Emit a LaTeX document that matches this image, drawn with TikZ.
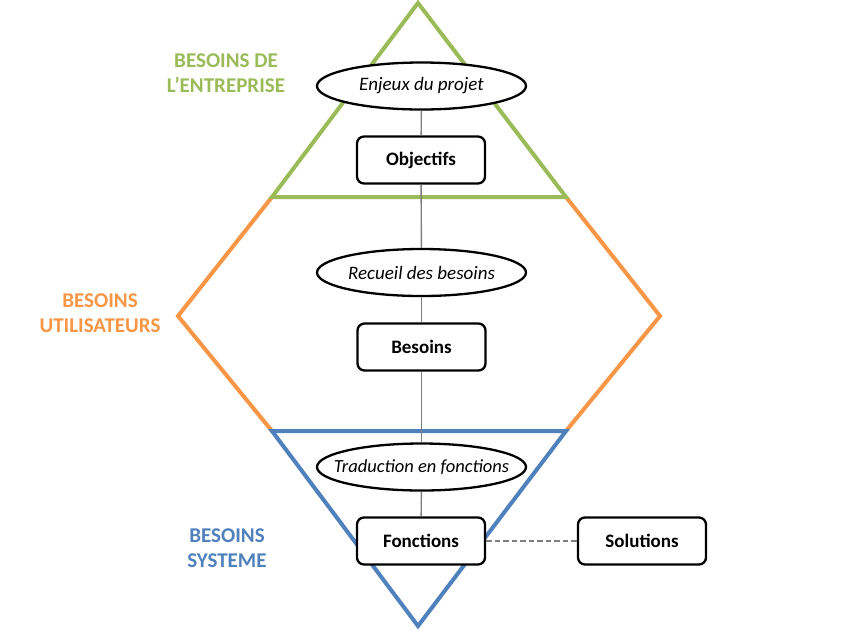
\documentclass[tikz,border=0pt]{standalone}
\usepackage{fontspec}
\setmainfont{Carlito}
\usetikzlibrary{shapes.geometric}
\definecolor{ogreen}{HTML}{9BBB59}
\definecolor{oorange}{HTML}{F79646}
\definecolor{oblue}{HTML}{4F81BD}
\definecolor{lgray}{HTML}{7F7F7F}
\tikzset{
  zone/.style={line width=4pt, line join=miter},
  oval/.style={ellipse, draw=black, line width=2.3pt, fill=white, minimum width=209pt, minimum height=47pt, inner xsep=-30pt, inner ysep=0pt, font=\fontsize{19}{22}\selectfont\itshape},
  box/.style={rectangle, rounded corners=7pt, draw=black, line width=2.3pt, fill=white, minimum width=128pt, minimum height=47pt, inner sep=0pt, font=\fontsize{19}{22}\selectfont\bfseries},
  zlabel/.style={align=center, font=\fontsize{21}{25}\selectfont\bfseries},
  link/.style={draw=lgray, line width=1.4pt},
  dlink/.style={draw=lgray, line width=1.4pt, dash pattern=on 5.5pt off 3pt}
}
\begin{document}
\begin{tikzpicture}[x=1pt,y=-1pt]
\useasboundingbox (0,0) rectangle (850,630);
\fill[white] (0,0) rectangle (850,630);
% zones
\draw[zone, oorange] (272,197) -- (178,316) -- (272,431);
\draw[zone, oorange] (566,197) -- (660,316) -- (566,431);
\draw[zone, ogreen] (418,3) -- (566,197) -- (272,197) -- cycle;
\draw[zone, oblue] (272,431) -- (566,431) -- (418,626) -- cycle;
% labels
\node[zlabel, text=ogreen] (lent) at (226,73) {BESOINS DE\\L’ENTREPRISE};
\node[zlabel, text=oorange] (luti) at (100,313) {BESOINS\\UTILISATEURS};
\node[zlabel, text=oblue] (lsys) at (227,548) {BESOINS\\SYSTEME};
% nodes
\node[oval] (e1) at (421.5,86) {Enjeux du projet};
\node[box] (o1) at (421,160) {Objectifs};
\node[oval] (e2) at (421.5,272.5) {Recueil des besoins};
\node[box] (b1) at (421.5,347) {Besoins};
\node[oval, font=\fontsize{18.5}{22}\selectfont\itshape] (e3) at (421.5,467) {Traduction en fonctions};
\node[box] (f1) at (421,541) {Fonctions};
\node[box] (s1) at (642,541) {Solutions};
% connectors
\draw[link] (e1) -- (o1);
\draw[link] (o1) -- (e2);
\draw[link] (e2) -- (b1);
\draw[link] (b1) -- (e3);
\draw[link] (e3) -- (f1);
\draw[dlink] (f1) -- (s1);
\end{tikzpicture}
\end{document}
